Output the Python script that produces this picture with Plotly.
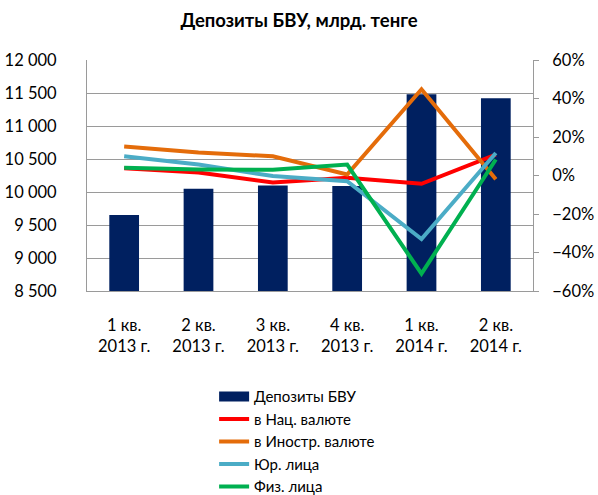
import plotly.graph_objects as go

# Quarter labels (two-line category text)
quarters = ["1 кв.<br>2013 г.", "2 кв.<br>2013 г.", "3 кв.<br>2013 г.",
            "4 кв.<br>2013 г.", "1 кв.<br>2014 г.", "2 кв.<br>2014 г."]

# Total bank deposits, bn tenge (left axis)
deposits = [9650, 10050, 10100, 10090, 11480, 11420]

# Growth rates, fraction (right axis)
nat_currency = [0.038, 0.015, -0.036, -0.012, -0.043, 0.108]
foreign_currency = [0.151, 0.120, 0.100, 0.005, 0.448, -0.020]
legal_entities = [0.100, 0.057, -0.003, -0.030, -0.330, 0.117]
individuals = [0.040, 0.031, 0.030, 0.057, -0.510, 0.083]

FONT = "Lato, 'Open Sans', sans-serif"
GRID = "#9a9a9a"
NAVY = "#002060"

fig = go.Figure()
fig.add_trace(go.Bar(x=quarters, y=deposits, name="Депозиты БВУ",
                     marker=dict(color=NAVY, line=dict(width=0)),
                     yaxis="y", showlegend=False))
# wide legend swatch for the bar series
fig.add_trace(go.Scatter(x=[None], y=[None], name="Депозиты БВУ", mode="lines",
                         line=dict(color=NAVY, width=12), yaxis="y"))

line_series = [
    ("в Нац. валюте", nat_currency, "#ff0000"),
    ("в Иностр. валюте", foreign_currency, "#e46c0a"),
    ("Юр. лица", legal_entities, "#4bacc6"),
    ("Физ. лица", individuals, "#00b050"),
]
for name, vals, color in line_series:
    fig.add_trace(go.Scatter(x=quarters, y=vals, name=name, mode="lines",
                             line=dict(color=color, width=4),
                             yaxis="y2"))

fig.update_layout(
    width=598, height=495,
    margin=dict(l=87, r=65, t=60, b=204, autoexpand=False),
    paper_bgcolor="white", plot_bgcolor="white",
    separators=", ",
    font=dict(family=FONT, size=16.5, color="#000000"),
    title=dict(text="<b>Депозиты БВУ, млрд. тенге</b>", x=0.5, xanchor="center",
               y=0.958, yanchor="middle", font=dict(size=18.5, family=FONT)),
    bargap=0.6,
    showlegend=True,
    legend=dict(x=0.285, y=-0.386, xanchor="left", yanchor="top",
                font=dict(size=15, family=FONT), tracegroupgap=0,
                bgcolor="rgba(0,0,0,0)"),
    xaxis=dict(showline=True, linecolor=GRID, linewidth=1, showgrid=False,
               ticks="", tickfont=dict(size=16.5), ticklabelstandoff=19),
    yaxis=dict(range=[8500, 12000], dtick=500, tickformat=",d",
               showgrid=True, gridcolor=GRID, gridwidth=1,
               showline=True, linecolor=GRID, linewidth=1,
               ticks="", zeroline=False, tickfont=dict(size=16.5),
               ticklabelstandoff=26),
    yaxis2=dict(range=[-0.6, 0.6], dtick=0.2, tickformat=".0%",
                overlaying="y", side="right", showgrid=False,
                showline=True, linecolor=GRID, linewidth=1,
                ticks="outside", ticklen=5, tickcolor=GRID,
                zeroline=False, tickfont=dict(size=16.5),
                ticklabelstandoff=10),
)

fig.write_html("out.html")
